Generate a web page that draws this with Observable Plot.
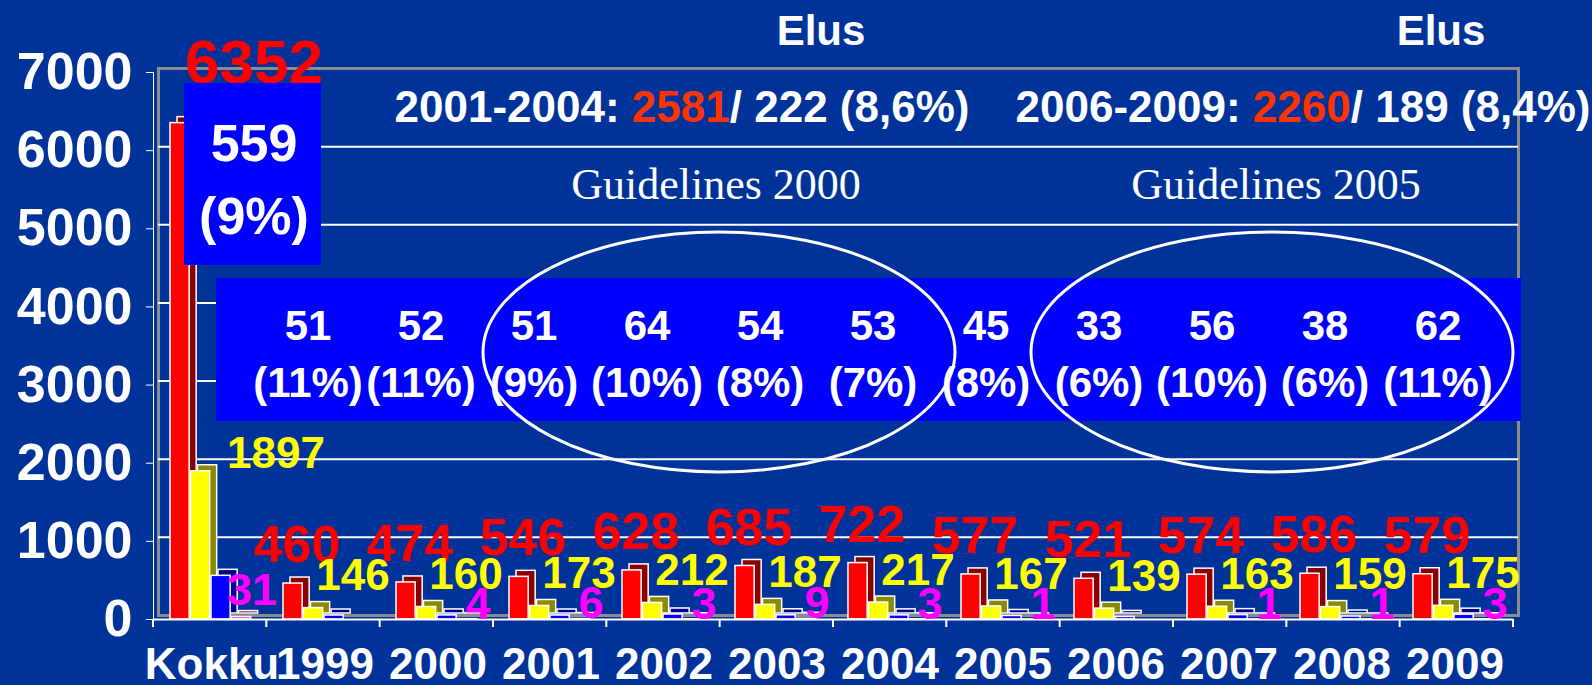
<!DOCTYPE html>
<html><head><meta charset="utf-8">
<script src="https://cdn.jsdelivr.net/npm/d3@7"></script>
<script src="https://cdn.jsdelivr.net/npm/@observablehq/plot@0.6"></script>
<style>
html,body{margin:0;padding:0;background:#003399;}
#chart svg{display:block;}
#chart g[aria-label^="y-axis"] text{font-size:52px;font-weight:bold;}
#chart g[aria-label^="x-axis"] text{font-size:44px;font-weight:bold;}
</style></head><body><div id="chart"></div>
<script>
// ---- data ----
const categories = ["Kokku","1999","2000","2001","2002","2003","2004","2005","2006","2007","2008","2009"];
const totals   = [6352, 460, 474, 546, 628, 685, 722, 577, 521, 574, 586, 579];
const yellowV  = [1897, 146, 160, 173, 212, 187, 217, 167, 139, 163, 159, 175];
const blueV    = [559, 51, 52, 51, 64, 54, 53, 45, 33, 56, 38, 62];
const bluePct  = ["9%","11%","11%","9%","10%","8%","7%","8%","6%","10%","6%","11%"];
const magentaV = [31, 0, 4, 6, 3, 9, 3, 1, 0, 1, 1, 3];
const yTicks   = [0,1000,2000,3000,4000,5000,6000,7000];
const periods      = ["2001-2004","2006-2009"];
const periodTotal  = [2581, 2260];
const periodElus   = [222, 189];
const periodPct    = ["8,6%","8,4%"];
const guidelines   = ["Guidelines 2000","Guidelines 2005"];
const elusLabel    = "Elus";

const rows = categories.map((c,i)=>({cat:c, red:totals[i], yellow:yellowV[i], blue:blueV[i], mag:magentaV[i], pct:bluePct[i]}));
const kokku = rows.slice(0,1), years = rows.slice(1);

// ---- layout ----
const W=1592, H=685, ML=153, MR=79, MT=72, MB=66;
const bw = (W-ML-MR)/categories.length;
const series = [
  {key:"red",    fill:"#ff0000", dark:"#8a0000"},
  {key:"yellow", fill:"#ffff00", dark:"#8a8a00"},
  {key:"blue",   fill:"#0000ff", dark:"#000090"},
  {key:"mag",    fill:"#cc33cc", dark:"#7a007a"}
];
const barMarks = [];
series.forEach((s,i)=>{
  const insetLeft = 15 + 20.5*i, insetRight = bw - insetLeft - 19.5;
  const data = rows.filter(d=>d[s.key]>0);
  barMarks.push(Plot.barY(data,{x:"cat", y:s.key, fill:s.dark, stroke:"white", strokeWidth:1.5, insetLeft, insetRight, dx:7, dy:-6}));
  barMarks.push(Plot.barY(data,{x:"cat", y:s.key, fill:s.fill, stroke:"white", strokeWidth:1.5, insetLeft, insetRight}));
});

function blueBoxes(){
  const g = d3.create("svg:g");
  g.append("rect").attr("x",216).attr("y",278).attr("width",1521-216).attr("height",421-278).attr("fill","#0000ff");
  g.append("rect").attr("x",184).attr("y",83).attr("width",137).attr("height",182).attr("fill","#0000ff");
  for (let k=0;k<=categories.length;k++){
    const x = ML + k*bw;
    g.append("line").attr("x1",x).attr("x2",x).attr("y1",H-MB).attr("y2",H-MB+8).attr("stroke","white").attr("stroke-width",2);
  }
  return g.node();
}

function overlay(){
  const g = d3.create("svg:g");
  [[719,352,236,120],[1272,352,241,120]].forEach(([cx,cy,rx,ry])=>{
    g.append("ellipse").attr("cx",cx).attr("cy",cy).attr("rx",rx).attr("ry",ry)
      .attr("fill","none").attr("stroke","white").attr("stroke-width",3);
  });
  const cxs = [682, 1303], ex = [821, 1441], gx = [716, 1276];
  periods.forEach((p,i)=>{
    const t = g.append("text").attr("x",cxs[i]).attr("y",122).attr("text-anchor","middle")
      .attr("font-family","Liberation Sans, Arial, sans-serif").attr("font-weight","bold").attr("font-size",44).attr("fill","white");
    t.append("tspan").text(p+": ");
    t.append("tspan").attr("fill","#ff3300").text(String(periodTotal[i]));
    t.append("tspan").text("/ "+periodElus[i]+" ("+periodPct[i]+")");
    g.append("text").attr("x",ex[i]).attr("y",45).attr("text-anchor","middle")
      .attr("font-family","Liberation Sans, Arial, sans-serif").attr("font-weight","bold").attr("font-size",42).attr("fill","white")
      .text(elusLabel);
    g.append("text").attr("x",gx[i]).attr("y",199).attr("text-anchor","middle")
      .attr("font-family","Liberation Serif, Times New Roman, serif").attr("font-weight","normal").attr("font-size",44).attr("fill","white")
      .text(guidelines[i]);
  });
  return g.node();
}

const bold = {fontWeight:"bold", fontFamily:"Liberation Sans, Arial, sans-serif"};

const chart = Plot.plot({
  width: W, height: H,
  marginLeft: ML, marginRight: MR, marginTop: MT, marginBottom: MB,
  style: {background:"#003399", color:"white", fontFamily:"Liberation Sans, Arial, sans-serif", fontWeight:"bold", overflow:"visible"},
  x: {type:"band", domain: categories, padding: 0, tickSize: 0, tickPadding: 28, label: null},
  y: {domain:[0,7000], ticks: yTicks, tickFormat: d=>String(d), tickSize: 7, tickPadding: 14, label: null, line: true},
  marks: [
    Plot.frame({stroke:"#8c8c8c", strokeWidth:3, dx:5, dy:-4}),
    Plot.ruleY(yTicks.filter(d=>d>0 && d<7000), {stroke:"white", strokeWidth:2, dx:5, dy:-4}),
    ...barMarks,
    Plot.ruleY([0], {stroke:"white", strokeWidth:2}),
    Plot.text(kokku, {x:"cat", y:"red", text:d=>String(d.red), fill:"#ff0000", fontSize:62, dx:42, dy:-60, ...bold}),
    Plot.text(years, {x:"cat", y:"red", text:d=>String(d.red), fill:"#ff0000", fontSize:52, dx:-28, dy:-38, ...bold}),
    Plot.text(kokku, {x:"cat", y:"yellow", text:d=>String(d.yellow), fill:"#ffff00", fontSize:44, dx:64, dy:-17, ...bold}),
    Plot.text(years, {x:"cat", y:"yellow", text:d=>String(d.yellow), fill:"#ffff00", fontSize:44, dx:28, dy:-32, ...bold}),
    Plot.text(kokku.filter(d=>d.mag>0), {x:"cat", y:"mag", text:d=>String(d.mag), fill:"#ff00ff", fontSize:45, dx:40, dy:-26, ...bold}),
    Plot.text(years.filter(d=>d.mag>0), {x:"cat", y:"mag", text:d=>String(d.mag), fill:"#ff00ff", fontSize:45, dx:40, dy:-15, ...bold}),
    blueBoxes,
    Plot.text(kokku, {x:"cat", text:d=>`${d.blue}\n(${d.pct})`, frameAnchor:"top", lineAnchor:"middle", dy:101.5, dx:42, fontSize:52, lineHeight:73/52, fill:"white", ...bold}),
    Plot.text(years, {x:"cat", text:d=>`${d.blue}\n(${d.pct})`, frameAnchor:"top", lineAnchor:"middle", dy:277.5, dx:-17, fontSize:42, lineHeight:57/42, fill:"white", ...bold}),
    overlay
  ]
});
document.getElementById("chart").appendChild(chart);
</script></body></html>
